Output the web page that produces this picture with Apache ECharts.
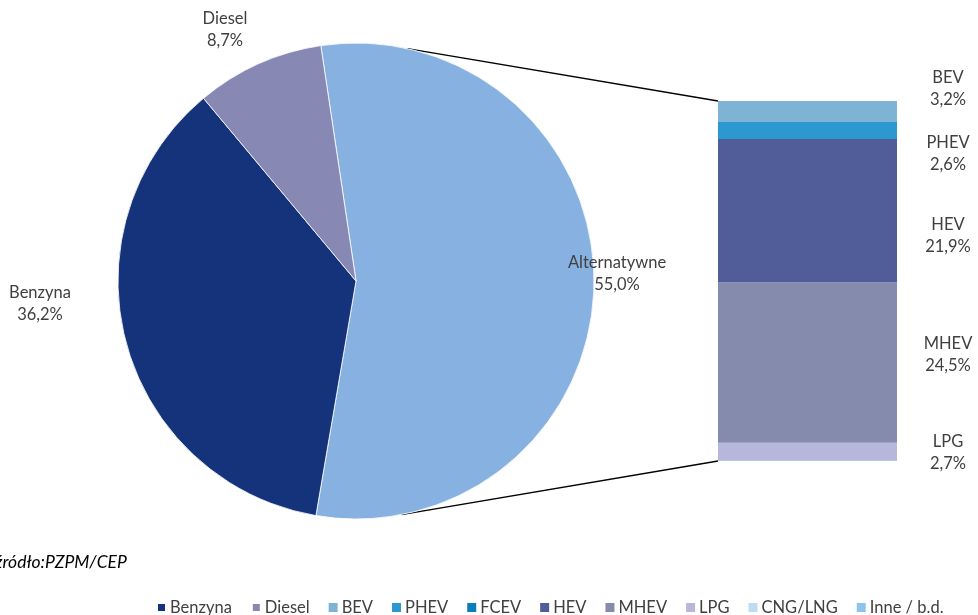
<!DOCTYPE html>
<html>
<head>
<meta charset="utf-8">
<script src="https://cdn.jsdelivr.net/npm/echarts@6/dist/echarts.min.js"></script>
<style>
html,body{margin:0;padding:0;background:#fff;}
#main{width:978px;height:615px;}
</style>
</head>
<body>
<div id="main"></div>
<script>
// ---- data ----
var pieNames = ['Alternatywne', 'Benzyna', 'Diesel'];
var pieValues = [55.0, 36.2, 8.7];
var barNames = ['BEV', 'PHEV', 'FCEV', 'HEV', 'MHEV', 'LPG', 'CNG/LNG', 'Inne / b.d.'];
var barValues = [3.2, 2.6, 0.0, 21.9, 24.5, 2.7, 0.0, 0.1];
var legendNames = ['Benzyna', 'Diesel', 'BEV', 'PHEV', 'FCEV', 'HEV', 'MHEV', 'LPG', 'CNG/LNG', 'Inne / b.d.'];
var sourceText = 'źródło:PZPM/CEP';

// ---- styles ----
var pieColors = {'Alternatywne': '#86B1E0', 'Benzyna': '#14337A', 'Diesel': '#8788B4'};
var barColors = {'BEV': '#7FB3D5', 'PHEV': '#2B98CF', 'FCEV': '#0B7DBD', 'HEV': '#505D99',
  'MHEV': '#848BAD', 'LPG': '#B6B7DA', 'CNG/LNG': '#BDDCF2', 'Inne / b.d.': '#8EC4EC'};
var FONT = 'Lato';
var FS = 16.5;
var TXT = '#404040';
var CX = 356, CY = 281, R = 238;
var GRID = {left: 718, top: 101, width: 179, height: 360};

var pieLabelPos = {
  'Alternatywne': [617, 274],
  'Benzyna': [40, 304],
  'Diesel': [225, 30]
};
var barLabelPos = {
  'BEV': 89, 'PHEV': 154, 'HEV': 236, 'MHEV': 355, 'LPG': 453
};

function fmt(v) { return v.toFixed(1).replace('.', ',') + '%'; }

var chart = echarts.init(document.getElementById('main'));

var series = [{
  type: 'pie',
  center: [CX, CY],
  radius: R,
  startAngle: 98.5,
  clockwise: true,
  silent: true,
  animation: false,
  itemStyle: {borderColor: '#fff', borderWidth: 0.8},
  label: {
    show: true,
    position: 'outside',
    formatter: function (p) { return p.name + '\n' + fmt(p.value); },
    fontFamily: FONT, fontSize: FS, color: TXT, lineHeight: 22, align: 'center'
  },
  labelLine: {show: false},
  labelLayout: function (p) {
    var name = pieNames[p.dataIndex];
    var pos = pieLabelPos[name];
    return {x: pos[0], y: pos[1], align: 'center', verticalAlign: 'middle'};
  },
  data: pieNames.map(function (n, i) {
    return {name: n, value: pieValues[i], itemStyle: {color: pieColors[n]}};
  })
}];

// stacked bar: bottom first
for (var i = barNames.length - 1; i >= 0; i--) {
  (function (name, val) {
    var ly = barLabelPos[name];
    series.push({
      type: 'bar',
      name: name,
      stack: 'alt',
      barWidth: '100%',
      animation: false,
      silent: true,
      itemStyle: {color: barColors[name]},
      label: {
        show: ly !== undefined,
        position: 'right',
        formatter: function (p) { return name + '\n' + fmt(p.value); },
        fontFamily: FONT, fontSize: FS, color: TXT, lineHeight: 22, align: 'center'
      },
      labelLayout: ly !== undefined ? function () {
        return {x: 948, y: ly, align: 'center', verticalAlign: 'middle'};
      } : undefined,
      data: [val]
    });
  })(barNames[i], barValues[i]);
}

// connector lines from pie rim to bar corners
function rim(degFromVertical, top) {
  var a = degFromVertical * Math.PI / 180;
  return [CX + R * Math.sin(a), top ? CY - R * Math.cos(a) : CY + R * Math.cos(a)];
}
var p1 = rim(12.5, true), p2 = rim(11, false);

var option = {
  backgroundColor: '#fff',
  animation: false,
  grid: GRID,
  xAxis: {type: 'category', data: ['Alternatywne'], show: false},
  yAxis: {type: 'value', min: 0, max: 55, show: false},
  legend: {
    data: legendNames,
    left: 151, top: 594,
    padding: 5,
    itemWidth: 9, itemHeight: 9, itemGap: 19,
    icon: 'rect',
    selectedMode: false,
    textStyle: {fontFamily: FONT, fontSize: FS, color: TXT, padding: [0, 0, 0, -1]}
  },
  graphic: [
    {type: 'line', shape: {x1: p1[0], y1: p1[1], x2: GRID.left, y2: GRID.top}, style: {stroke: '#000', lineWidth: 1.3}},
    {type: 'line', shape: {x1: p2[0], y1: p2[1], x2: GRID.left, y2: GRID.top + GRID.height}, style: {stroke: '#000', lineWidth: 1.3}},
    {type: 'text', left: -5, top: 553, style: {text: sourceText, fontFamily: FONT, fontSize: 17.5, fontStyle: 'italic', fill: '#000'}}
  ],
  series: series
};
chart.setOption(option);
</script>
</body>
</html>
